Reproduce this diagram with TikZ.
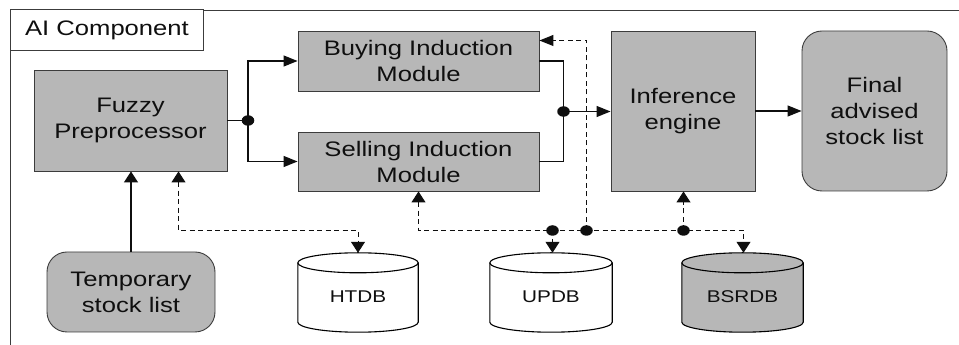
\documentclass[tikz,border=0pt]{standalone}
\usepackage{fontspec}
\setmainfont[FakeStretch=1.22]{Liberation Sans}
\usetikzlibrary{arrows.meta,calc,shapes.geometric}

\definecolor{modgray}{RGB}{183,183,183}
\definecolor{edgegray}{RGB}{60,60,60}
\definecolor{ink}{RGB}{15,15,15}

% cylinder drawn around a named (invisible) node
\newcommand\drawdb[2]{%
  \path[dbline,fill=#2] let \p1=(#1.north west), \p2=(#1.south east) in
    (\x1,\y1-10pt) -- (\x1,\y2+10pt)
    arc[start angle=180,end angle=360,x radius={(\x2-\x1)/2},y radius=10pt]
    -- (\x2,\y1-10pt)
    arc[start angle=0,end angle=180,x radius={(\x2-\x1)/2},y radius=10pt]
    -- cycle;
  \draw[dbline] let \p1=(#1.north west), \p2=(#1.south east) in
    (\x1,\y1-10pt)
    arc[start angle=180,end angle=360,x radius={(\x2-\x1)/2},y radius=10pt];
}

\begin{document}
\begin{tikzpicture}[x=1pt,y=1pt,
  font=\fontsize{21}{26}\selectfont, text=ink,
  module/.style={draw=edgegray, line width=0.9pt, fill=modgray, rectangle,
    inner sep=0pt, align=center},
  roundmod/.style={module, rounded corners=20pt},
  dbnode/.style={inner sep=0pt, minimum height=79pt},
  dblabel/.style={font=\fontsize{17}{20}\selectfont},
  dbline/.style={draw=black, line width=1.1pt},
  link/.style={draw=ink, line width=1.2pt},
  % tips pointing sideways are long and narrow, tips pointing up or down short and wide
  htip/.style={-{Triangle[length=14pt,width=11pt]}},
  vtip/.style={-{Triangle[length=11pt,width=14pt]}},
  vvtip/.style={{Triangle[length=11pt,width=14pt]}-{Triangle[length=11pt,width=14pt]}},
  dashlink/.style={draw=ink, line width=1pt, dash pattern=on 5pt off 3.5pt},
  dot/.style={ellipse, fill=ink, inner sep=0pt, minimum width=12.5pt, minimum height=10.5pt},
]
\useasboundingbox (0,0) rectangle (959,345);

% component frame, open at right and bottom
\draw[edgegray, line width=1pt] (10.5,0) -- (10.5,334.5) -- (959,334.5);
\node[draw=edgegray, line width=1pt, fill=white, minimum width=193pt,
  minimum height=41pt, inner sep=0pt] (title) at (107,314.5) {AI Component};

% processing blocks
\node[module, minimum width=193pt, minimum height=101pt] (fuzzy) at (130.5,224.5) {Fuzzy\\Preprocessor};
\node[module, minimum width=241pt, minimum height=60pt] (buy) at (418.5,284) {Buying Induction\\Module};
\node[module, minimum width=241pt, minimum height=59pt] (sell) at (418.5,183.5) {Selling Induction\\Module};
\node[module, minimum width=144pt, minimum height=160pt] (infer) at (683,234) {Inference\\engine};
\node[roundmod, minimum width=145pt, minimum height=160pt] (final) at (874.5,234) {Final\\advised\\stock list};
\node[roundmod, minimum width=168pt, minimum height=80pt] (temp) at (131,53) {Temporary\\stock list};

% databases
\node[dbnode, minimum width=120pt] (htdb) at (358,52.5) {};
\node[dbnode, minimum width=122pt] (updb) at (551,52.5) {};
\node[dbnode, minimum width=121pt] (bsrdb) at (742.5,52.5) {};
\drawdb{htdb}{white}
\drawdb{updb}{white}
\drawdb{bsrdb}{modgray}
\node[dblabel] (htdblabel) at ($(htdb.center)+(0,-4)$) {HTDB};
\node[dblabel] (updblabel) at ($(updb.center)+(0,-4)$) {UPDB};
\node[dblabel] (bsrdblabel) at ($(bsrdb.center)+(0,-4)$) {BSRDB};

% junction points
\node[dot] (jin) at (248,224.5) {};
\node[dot] (jout) at (563.5,233.5) {};
\node[dot] (dup) at (552.5,114.5) {};
\node[dot] (dbuy) at (586.5,114.5) {};
\node[dot] (dinf) at (683.5,114.5) {};
\coordinate (dleft) at (418.5,114.5);
\coordinate (dright) at (743.5,114.5);
\coordinate (hbend) at (178.5,114.5);
\coordinate (buybend) at (586.5,304.5);

% solid data flow
\draw[link] (fuzzy.east) -- (jin.center);
\draw[link, htip] (jin.center) |- (buy.west);
\draw[link, htip] (jin.center) |- (sell.west);
\draw[link] (buy.east) -| (jout.center);
\draw[link] (sell.east) -| (jout.center);
\draw[link, htip] (jout.center) -- (infer.west |- jout);
\draw[link, htip] (infer.east |- final) -- (final.west);
\draw[link, vtip] (temp.north) -- (fuzzy.south -| temp.north);

% dashed database access
\draw[dashlink, vvtip] (fuzzy.south -| hbend) -- (hbend) -| (htdb.north);
\draw[dashlink, vvtip] (sell.south -| dleft) -- (dleft) -- (dright) -- (bsrdb.north -| dright);
\draw[dashlink, vtip] (dup.center) -- (updb.north -| dup);
\draw[dashlink, htip] (dbuy.center) -- (buybend) -- (buy.east |- buybend);
\draw[dashlink, vtip] (dinf.center) -- (infer.south -| dinf);
\end{tikzpicture}
\end{document}
